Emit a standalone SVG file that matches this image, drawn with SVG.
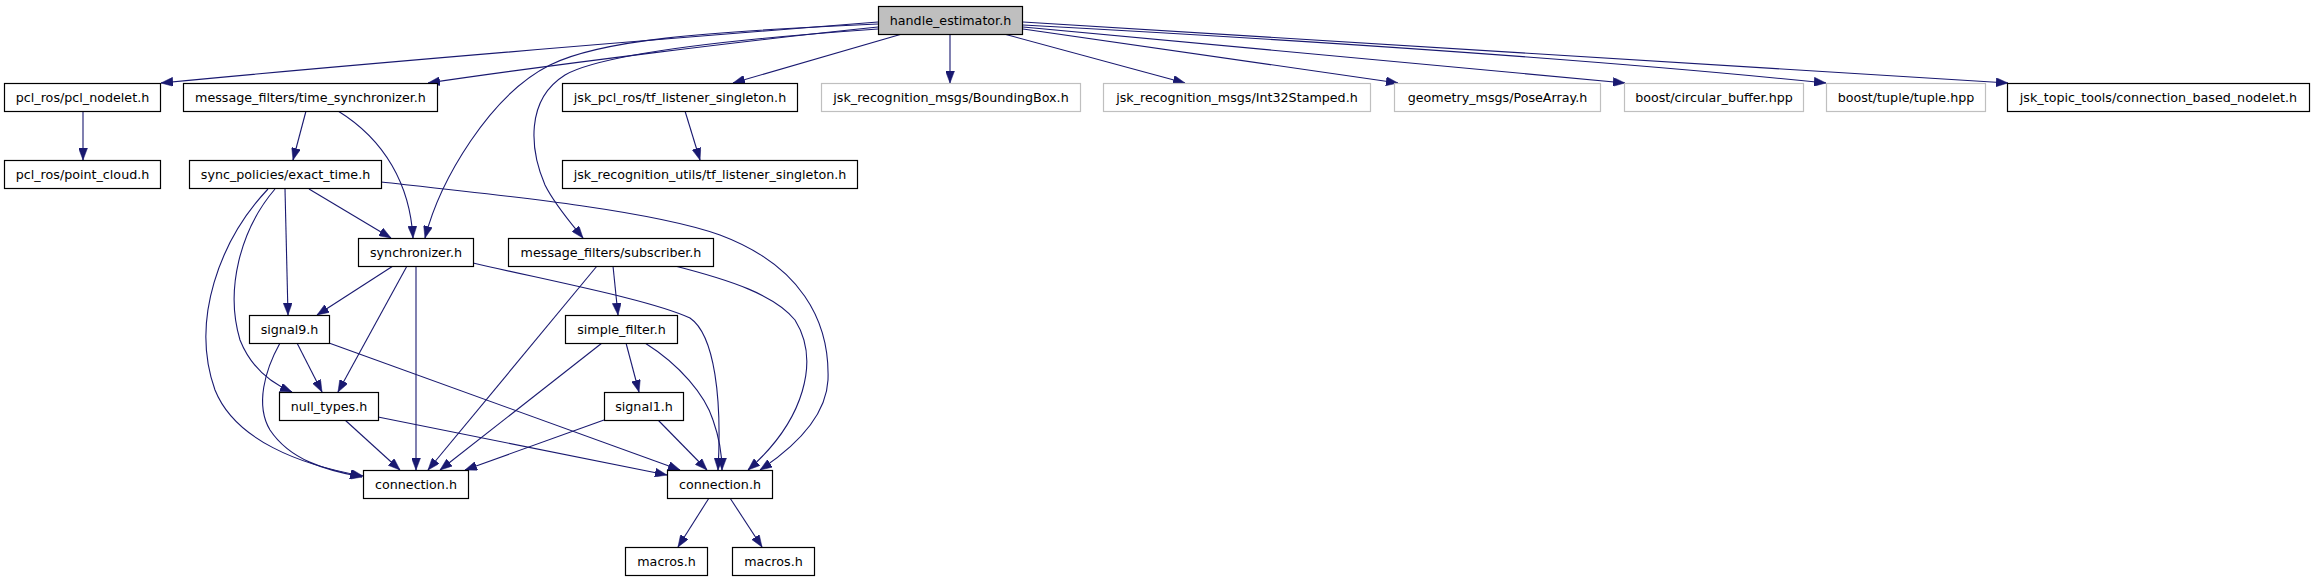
<svg xmlns="http://www.w3.org/2000/svg" width="2315" height="581" viewBox="0 0 2315 581">
<style>
.node rect{fill:#ffffff;stroke:#000000;stroke-width:1.2}
.node.gray rect{stroke:#bfbfbf}
.node.root rect{fill:#bfbfbf}
.node text{font-family:"DejaVu Sans","Liberation Sans",sans-serif;font-size:12.7px;text-anchor:middle;fill:#000}
#edges path{fill:none;stroke:#191970;stroke-width:1.1;marker-end:url(#arr)}
</style>
<defs>
<marker id="arr" viewBox="0 0 12 9" refX="12" refY="4.5" markerWidth="12" markerHeight="9" markerUnits="userSpaceOnUse" orient="auto">
<path d="M0,0 L12,4.5 L0,9 z" fill="#191970" stroke="#191970" stroke-width="0.5"/>
</marker>
</defs>
<rect width="2315" height="581" fill="#ffffff"/>
<g id="edges">
<path d="M878,22 C650,40 400,60 161,83"/>
<path d="M878,27 C750,40 550,65 428,83"/>
<path d="M878,24 C700,32 600,40 550,65 C490,95 440,180 425,238"/>
<path d="M878,29 C720,40 600,55 565,75 C525,100 530,150 545,185 C555,205 570,222 583,238"/>
<path d="M902,34 L733,83"/>
<path d="M950,34 L950,83"/>
<path d="M1004,34 L1185,83"/>
<path d="M1023,29 L1398,83"/>
<path d="M1023,27 L1625,83"/>
<path d="M1023,25 C1300,40 1600,60 1826,83"/>
<path d="M1023,22 L2008,83"/>
<path d="M83,111 L83,160"/>
<path d="M306,111 L293,160"/>
<path d="M338,111 C385,140 410,185 413,238"/>
<path d="M685,111 L700,160"/>
<path d="M309,189 L391,238"/>
<path d="M285,189 L288,315"/>
<path d="M275,189 C240,230 225,290 240,340 C250,365 268,382 292,392"/>
<path d="M268,189 C220,240 190,320 215,390 C235,440 300,465 363,476"/>
<path d="M381,182 C500,195 650,210 720,235 C800,265 830,320 828,380 C826,420 790,450 760,470"/>
<path d="M393,266 L317,315"/>
<path d="M407,266 L338,392"/>
<path d="M416,266 L416,470"/>
<path d="M473,263 C560,283 650,300 690,318 C715,335 722,400 718,470"/>
<path d="M613,266 L618,315"/>
<path d="M597,266 L428,470"/>
<path d="M675,266 C730,280 775,295 795,320 C820,360 805,420 748,470"/>
<path d="M626,343 L639,392"/>
<path d="M602,343 L440,470"/>
<path d="M645,343 C680,365 705,395 713,420 C720,440 722,455 722,470"/>
<path d="M297,343 L322,392"/>
<path d="M280,343 C265,370 255,405 270,430 C290,460 325,470 362,477"/>
<path d="M329,343 L680,470"/>
<path d="M345,420 L400,470"/>
<path d="M378,417 L667,475"/>
<path d="M604,420 L465,470"/>
<path d="M658,420 L707,470"/>
<path d="M709,498 L678,547"/>
<path d="M730,498 L762,547"/>
</g>
<g id="n_handle_estimator" class="node root"><rect x="878.5" y="6.5" width="144" height="28"/><text x="950.5" y="25">handle_estimator.h</text></g>
<g id="n_pcl_nodelet" class="node"><rect x="4.5" y="83.5" width="156" height="28"/><text x="82.5" y="101.5">pcl_ros/pcl_nodelet.h</text></g>
<g id="n_time_synchronizer" class="node"><rect x="183.5" y="83.5" width="254" height="28"/><text x="310.5" y="101.5">message_filters/time_synchronizer.h</text></g>
<g id="n_jsk_tf_listener" class="node"><rect x="562.5" y="83.5" width="235" height="28"/><text x="680" y="101.5">jsk_pcl_ros/tf_listener_singleton.h</text></g>
<g id="n_boundingbox" class="node gray"><rect x="821.5" y="83.5" width="259" height="28"/><text x="951" y="101.5">jsk_recognition_msgs/BoundingBox.h</text></g>
<g id="n_int32stamped" class="node gray"><rect x="1103.5" y="83.5" width="267" height="28"/><text x="1237" y="101.5">jsk_recognition_msgs/Int32Stamped.h</text></g>
<g id="n_posearray" class="node gray"><rect x="1394.5" y="83.5" width="206" height="28"/><text x="1497.5" y="101.5">geometry_msgs/PoseArray.h</text></g>
<g id="n_circular_buffer" class="node gray"><rect x="1624.5" y="83.5" width="179" height="28"/><text x="1714" y="101.5">boost/circular_buffer.hpp</text></g>
<g id="n_tuple" class="node gray"><rect x="1826.5" y="83.5" width="159" height="28"/><text x="1906" y="101.5">boost/tuple/tuple.hpp</text></g>
<g id="n_connection_based_nodelet" class="node"><rect x="2007.5" y="83.5" width="302" height="28"/><text x="2158.5" y="101.5">jsk_topic_tools/connection_based_nodelet.h</text></g>
<g id="n_point_cloud" class="node"><rect x="4.5" y="160.5" width="156" height="28"/><text x="82.5" y="178.5">pcl_ros/point_cloud.h</text></g>
<g id="n_exact_time" class="node"><rect x="189.5" y="160.5" width="192" height="28"/><text x="285.5" y="178.5">sync_policies/exact_time.h</text></g>
<g id="n_utils_tf_listener" class="node"><rect x="562.5" y="160.5" width="295" height="28"/><text x="710" y="178.5">jsk_recognition_utils/tf_listener_singleton.h</text></g>
<g id="n_synchronizer" class="node"><rect x="358.5" y="238.5" width="115" height="28"/><text x="416" y="256.5">synchronizer.h</text></g>
<g id="n_subscriber" class="node"><rect x="508.5" y="238.5" width="205" height="28"/><text x="611" y="256.5">message_filters/subscriber.h</text></g>
<g id="n_signal9" class="node"><rect x="249.5" y="315.5" width="80" height="28"/><text x="289.5" y="333.5">signal9.h</text></g>
<g id="n_simple_filter" class="node"><rect x="565.5" y="315.5" width="112" height="28"/><text x="621.5" y="333.5">simple_filter.h</text></g>
<g id="n_null_types" class="node"><rect x="279.5" y="392.5" width="99" height="28"/><text x="329" y="410.5">null_types.h</text></g>
<g id="n_signal1" class="node"><rect x="604.5" y="392.5" width="79" height="28"/><text x="644" y="410.5">signal1.h</text></g>
<g id="n_connection_left" class="node"><rect x="363.5" y="470.5" width="105" height="28"/><text x="416" y="488.5">connection.h</text></g>
<g id="n_connection_right" class="node"><rect x="667.5" y="470.5" width="105" height="28"/><text x="720" y="488.5">connection.h</text></g>
<g id="n_macros1" class="node"><rect x="625.5" y="547.5" width="82" height="28"/><text x="666.5" y="565.5">macros.h</text></g>
<g id="n_macros2" class="node"><rect x="732.5" y="547.5" width="82" height="28"/><text x="773.5" y="565.5">macros.h</text></g>
</svg>
